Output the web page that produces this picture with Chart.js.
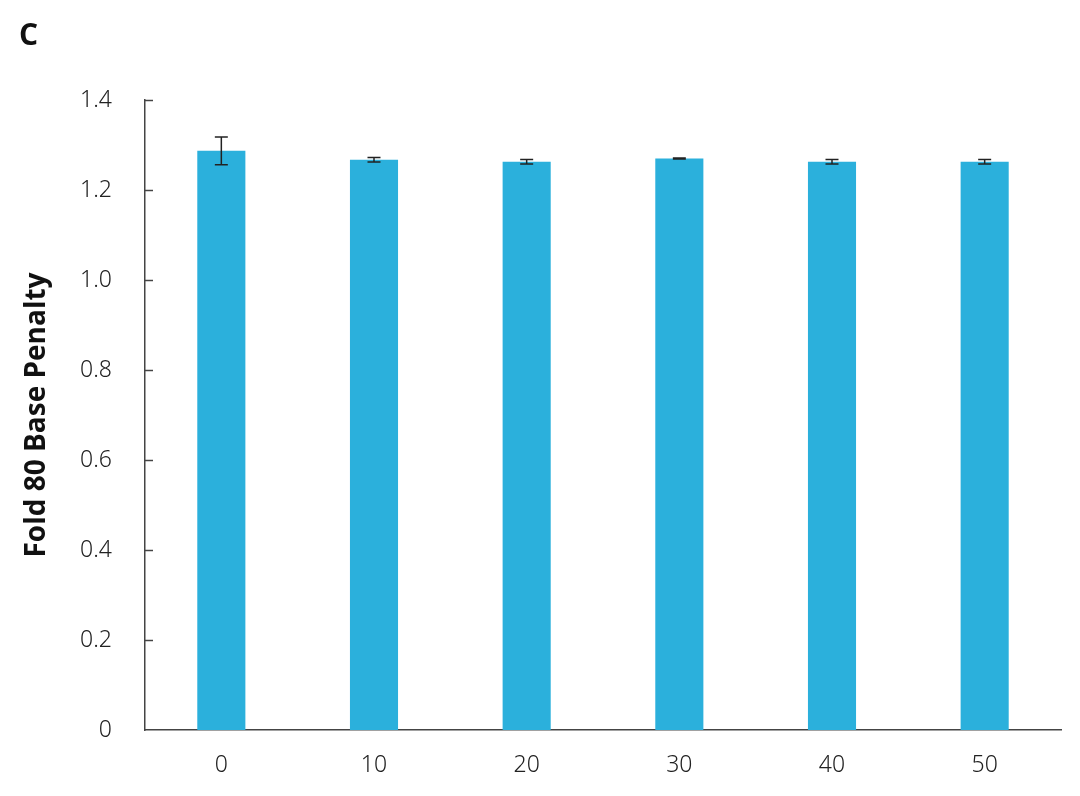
<!DOCTYPE html>
<html lang="en">
<head>
<meta charset="utf-8">
<title>Fold 80 Base Penalty</title>
<script src="https://cdn.jsdelivr.net/npm/chart.js@4.4.1/dist/chart.umd.min.js"></script>
<style>
  html, body { margin: 0; padding: 0; background: #fff; }
  #wrap { width: 1080px; height: 796px; }
</style>
</head>
<body>
<div id="wrap"><canvas id="chart" width="1080" height="796"></canvas></div>
<script>
var categories = ["0", "10", "20", "30", "40", "50"];
var penalty = [1.287, 1.267, 1.263, 1.270, 1.263, 1.263];
var penaltyErr = [0.031, 0.005, 0.005, 0.001, 0.005, 0.005];
var yTicks = [0, 0.2, 0.4, 0.6, 0.8, 1.0, 1.2, 1.4];

var tickFont = { family: "'Noto Sans', 'Open Sans', sans-serif", size: 23, weight: '300' };

// error bars + inward tick marks on the y axis + panel letter
var extras = {
  id: 'extras',
  afterDatasetsDraw: function (chart) {
    var ctx = chart.ctx;
    var y = chart.scales.y;
    var meta = chart.getDatasetMeta(0);
    ctx.save();
    ctx.strokeStyle = '#222';
    ctx.lineWidth = 1.5;
    meta.data.forEach(function (bar, i) {
      var top = y.getPixelForValue(penalty[i] + penaltyErr[i]);
      var bot = y.getPixelForValue(penalty[i] - penaltyErr[i]);
      var x = bar.x;
      ctx.beginPath();
      ctx.moveTo(x, top); ctx.lineTo(x, bot);
      ctx.moveTo(x - 6.5, top); ctx.lineTo(x + 6.5, top);
      ctx.moveTo(x - 6.5, bot); ctx.lineTo(x + 6.5, bot);
      ctx.stroke();
    });
    ctx.strokeStyle = '#444';
    ctx.lineWidth = 1.5;
    yTicks.forEach(function (v) {
      if (v === 0) return;
      var py = Math.round(y.getPixelForValue(v)) + 0.5;
      ctx.beginPath();
      ctx.moveTo(y.right, py);
      ctx.lineTo(y.right + 8, py);
      ctx.stroke();
    });
    ctx.fillStyle = '#111';
    ctx.font = "bold 30px 'Open Sans', 'Noto Sans', sans-serif";
    ctx.textAlign = 'left';
    ctx.textBaseline = 'middle';
    ctx.fillText('C', 19, 36);
    ctx.restore();
  }
};

new Chart(document.getElementById('chart'), {
  type: 'bar',
  data: {
    labels: categories,
    datasets: [{
      label: 'Fold 80 Base Penalty',
      data: penalty,
      backgroundColor: '#2BB0DC',
      borderWidth: 0,
      barPercentage: 0.315,
      categoryPercentage: 1.0
    }]
  },
  options: {
    responsive: false,
    animation: false,
    layout: { padding: { top: 100, right: 19, bottom: 0, left: 0 } },
    plugins: {
      legend: { display: false },
      tooltip: { enabled: false }
    },
    scales: {
      x: {
        grid: { display: false },
        border: { display: true, color: '#444', width: 1.5 },
        ticks: { color: '#222', font: tickFont, padding: 14 },
        afterFit: function (s) { s.height = 66; }
      },
      y: {
        min: 0,
        max: 1.4,
        afterBuildTicks: function (s) {
          s.ticks = yTicks.map(function (v) { return { value: v }; });
        },
        grid: { display: false, drawTicks: false },
        border: { display: true, color: '#444', width: 1.5 },
        ticks: {
          color: '#222',
          font: tickFont,
          padding: 33,
          callback: function (v) { return v === 0 ? '0' : v.toFixed(1); }
        },
        title: {
          display: true,
          text: 'Fold 80 Base Penalty',
          color: '#111',
          font: { family: "'Open Sans', 'Noto Sans', sans-serif", size: 28, weight: 'bold' },
          padding: { top: 20, bottom: 0 }
        },
        afterFit: function (s) { s.width = 145; }
      }
    }
  },
  plugins: [extras]
});
</script>
</body>
</html>
